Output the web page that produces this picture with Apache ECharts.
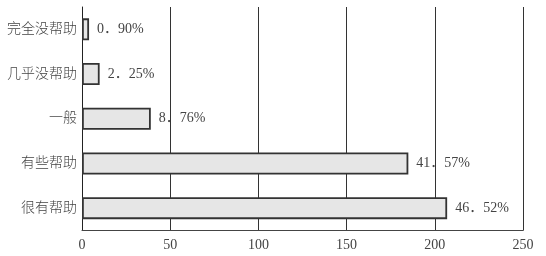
<!DOCTYPE html>
<html>
<head>
<meta charset="utf-8">
<script src="https://cdn.jsdelivr.net/npm/echarts@6/dist/echarts.min.js"></script>
<style>html,body{margin:0;padding:0;background:#fff}#c{width:546px;height:256px}</style>
</head>
<body>
<div id="c"></div>
<script>
var categories = ['完全没帮助', '几乎没帮助', '一般', '有些帮助', '很有帮助'];
var counts = [4, 10, 39, 185, 207];
var percentLabels = ['0．90%', '2．25%', '8．76%', '41．57%', '46．52%'];
var xTicks = [0, 50, 100, 150, 200, 250];

var font = "'Liberation Serif', 'Noto Sans CJK SC', serif";
var chart = echarts.init(document.getElementById('c'), null, {renderer: 'canvas'});
chart.setOption({
  animation: false,
  backgroundColor: '#fff',
  grid: {left: 82, right: 23, top: 7, bottom: 25.5, containLabel: false},
  xAxis: {
    type: 'value',
    min: xTicks[0], max: xTicks[xTicks.length - 1], interval: 50,
    axisLine: {show: true, lineStyle: {color: '#444', width: 1}},
    axisTick: {show: false},
    splitLine: {show: true, lineStyle: {color: '#333', width: 1}},
    axisLabel: {color: '#444', fontSize: 14, fontFamily: font, margin: 8}
  },
  yAxis: {
    type: 'category',
    data: categories,
    inverse: true,
    axisLine: {show: true, lineStyle: {color: '#222', width: 1}},
    axisTick: {show: false},
    axisLabel: {color: '#444', fontSize: 14, fontWeight: 300, fontFamily: font, margin: 5}
  },
  series: [{
    type: 'bar',
    data: counts,
    barWidth: 22,
    itemStyle: {color: '#e6e6e6', borderColor: '#333', borderWidth: 1.8},
    label: {
      show: true, position: 'right', distance: 8,
      color: '#444', fontSize: 14, fontFamily: font,
      formatter: function (p) { return percentLabels[p.dataIndex]; }
    }
  }]
});
</script>
</body>
</html>
